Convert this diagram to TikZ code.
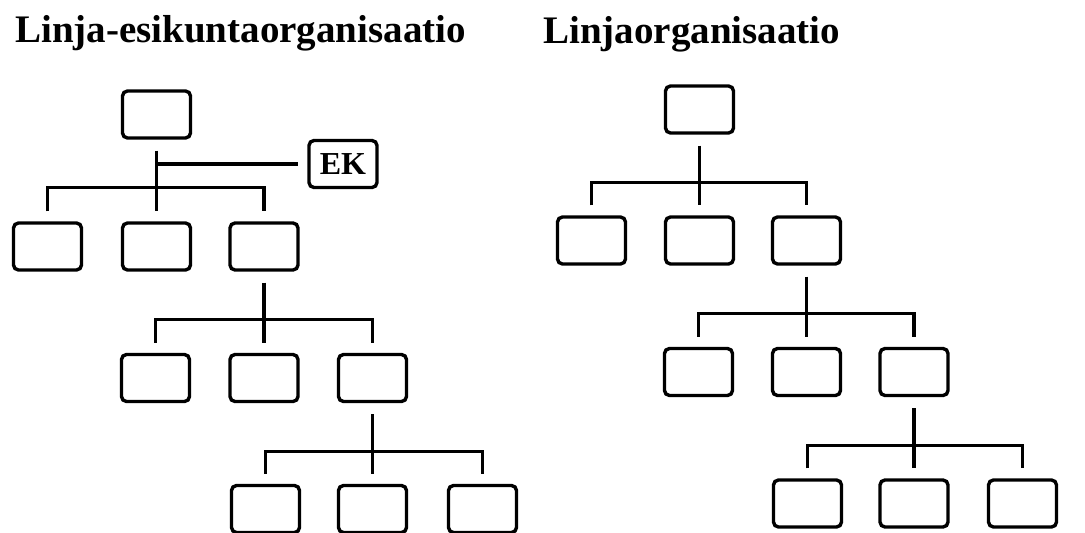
\documentclass[tikz,border=0pt]{standalone}
\usepackage{fontspec}
\setmainfont{Liberation Serif}
\usetikzlibrary{calc}
\begin{document}
\begin{tikzpicture}[x=1pt,y=-1pt,
  orgbox/.style={draw,line width=3.4pt,rounded corners=5pt,minimum width=68pt,
    minimum height=47pt,inner sep=0pt,font=\bfseries\fontsize{32}{32}\selectfont},
  link/.style={line width=3.4pt},
  heading/.style={anchor=base west,inner sep=0pt,font=\bfseries\fontsize{39}{39}\selectfont}]
\useasboundingbox (0,0) rectangle (1085,533);
\fill[white] (0,0) rectangle (1085,533);

% parent P with children A, B (middle) and C: stem, bar and drops
\newcommand\orgfork[4]{%
  \draw[link] ($(#1.south)+(0,11)$) -- ($(#3.north)+(0,-10)$);
  \draw[link] ($(#2.north)+(0,-10)$) |- ($(#1.south)+(0,48)$) -| ($(#4.north)+(0,-10)$);
}

% headings
\node[heading] (t1) at (15,42) {Linja-esikuntaorganisaatio};
\node[heading] (t2) at (543,43) {Linjaorganisaatio};

% line-and-staff organisation
\node[orgbox] (L0) at (156.5,114.5) {};
\node[orgbox] (EK) at (343,164) {EK};
\node[orgbox] (L1a) at (47.5,246.5) {};
\node[orgbox] (L1b) at (156.5,246.5) {};
\node[orgbox] (L1c) at (264,246.5) {};
\node[orgbox] (L2a) at (155.5,378) {};
\node[orgbox] (L2b) at (264,378) {};
\node[orgbox] (L2c) at (372.5,378) {};
\node[orgbox] (L3a) at (265.5,509) {};
\node[orgbox] (L3b) at (372.5,509) {};
\node[orgbox] (L3c) at (482.5,509) {};

\orgfork{L0}{L1a}{L1b}{L1c}
\orgfork{L1c}{L2a}{L2b}{L2c}
\orgfork{L2c}{L3a}{L3b}{L3c}
\draw[link] (L0.south |- EK.west) -- ($(EK.west)+(-9,0)$);

% line organisation
\node[orgbox] (R0) at (699.5,109.5) {};
\node[orgbox] (R1a) at (591.5,240.5) {};
\node[orgbox] (R1b) at (699.5,240.5) {};
\node[orgbox] (R1c) at (806.5,240.5) {};
\node[orgbox] (R2a) at (698.5,372) {};
\node[orgbox] (R2b) at (806.5,372) {};
\node[orgbox] (R2c) at (914,372) {};
\node[orgbox] (R3a) at (807.5,503.5) {};
\node[orgbox] (R3b) at (914,503.5) {};
\node[orgbox] (R3c) at (1022.5,503.5) {};

\orgfork{R0}{R1a}{R1b}{R1c}
\orgfork{R1c}{R2a}{R2b}{R2c}
\orgfork{R2c}{R3a}{R3b}{R3c}
\end{tikzpicture}
\end{document}
